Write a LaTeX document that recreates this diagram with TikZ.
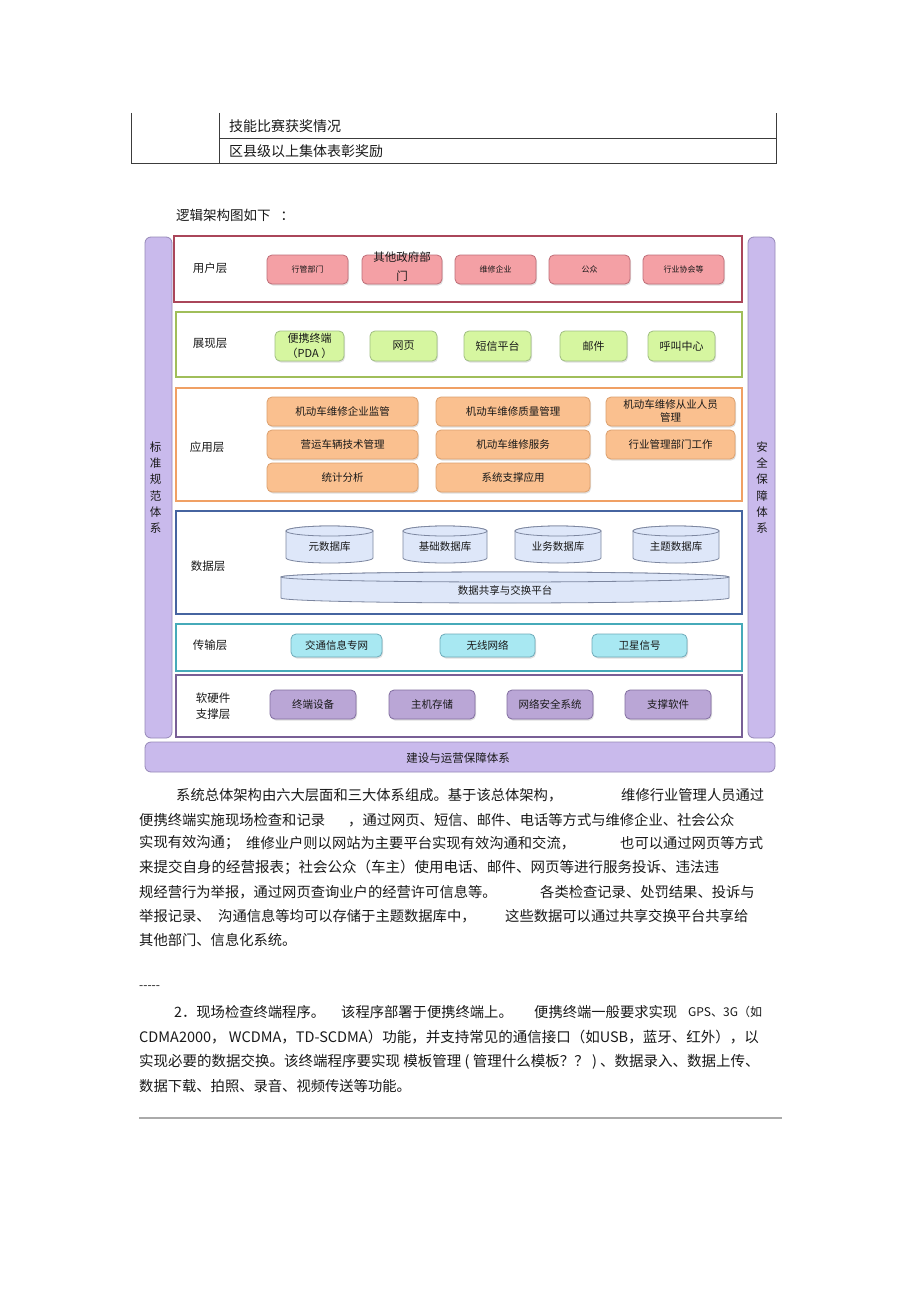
\documentclass[tikz,border=0pt]{standalone}
\usepackage{fontspec}
\newfontfamily\cjk{Noto Sans CJK SC}
\usetikzlibrary{shadows}

\definecolor{barfill}{RGB}{201,186,236}
\definecolor{bardraw}{RGB}{150,136,184}
\definecolor{userline}{RGB}{170,70,90}
\definecolor{userfill}{RGB}{244,160,165}
\definecolor{userdraw}{RGB}{190,110,120}
\definecolor{greenline}{RGB}{160,190,90}
\definecolor{greenfill}{RGB}{214,246,160}
\definecolor{greendraw}{RGB}{160,190,130}
\definecolor{orangeline}{RGB}{240,160,100}
\definecolor{orangefill}{RGB}{250,192,143}
\definecolor{orangedraw}{RGB}{220,160,110}
\definecolor{blueline}{RGB}{70,100,160}
\definecolor{cylfill}{RGB}{222,231,249}
\definecolor{cyldraw}{RGB}{125,135,160}
\definecolor{tealline}{RGB}{70,170,185}
\definecolor{cyanfill}{RGB}{168,232,242}
\definecolor{cyandraw}{RGB}{110,170,185}
\definecolor{purpline}{RGB}{120,95,150}
\definecolor{purpfill}{RGB}{186,166,214}
\definecolor{purpdraw}{RGB}{130,110,160}
\definecolor{textc}{RGB}{25,25,25}
\definecolor{tabline}{RGB}{60,60,60}
\definecolor{rulec}{RGB}{170,170,170}

\tikzset{
  body/.style={font=\cjk\fontsize{14.3}{17}\selectfont, anchor=west, inner sep=0pt, text=textc},
  layerlabel/.style={font=\cjk\fontsize{11.5}{16}\selectfont, inner sep=0pt, align=center, text=textc},
  boxtext/.style={font=\cjk\fontsize{10.5}{13}\selectfont, inner sep=0pt, align=center, text=textc},
  smallbox/.style={rounded corners=5pt, line width=0.8pt, inner sep=0pt,
     drop shadow={opacity=0.25, shadow xshift=1pt, shadow yshift=-1.5pt}},
  ubox/.style={smallbox, draw=userdraw, fill=userfill},
  gbox/.style={smallbox, draw=greendraw, fill=greenfill},
  obox/.style={smallbox, draw=orangedraw, fill=orangefill},
  cbox/.style={smallbox, draw=cyandraw, fill=cyanfill},
  pbox/.style={smallbox, draw=purpdraw, fill=purpfill},
  layer/.style={line width=1.3pt, fill=white, inner sep=0pt},
  bar/.style={draw=bardraw, fill=barfill, rounded corners=6pt, line width=0.8pt, inner sep=0pt},
  cylstyle/.style={draw=cyldraw, fill=cylfill, line width=0.8pt},
  tab/.style={draw=tabline, line width=0.8pt}
}

\newcommand{\dbcyl}[6]{%
  \pgfmathsetmacro\cylcx{(#2+#4)/2}%
  \pgfmathsetmacro\cylrx{(#4-#2)/2}%
  \draw[cylstyle] ({#2},{#3+5}) -- ({#2},{#5-5})
     arc[start angle=180,end angle=360,x radius=\cylrx pt,y radius=5pt]
     -- ({#4},{#3+5})
     arc[start angle=0,end angle=180,x radius=\cylrx pt,y radius=5pt] -- cycle;
  \draw[cylstyle] (\cylcx,{#3+5}) ellipse[x radius=\cylrx pt, y radius=5pt];
  \node[boxtext] (#1) at (\cylcx,{(#3+#5)/2+2.5}) {#6};
}

\begin{document}
\begin{tikzpicture}[x=1pt,y=-1pt]
\useasboundingbox (0,0) rectangle (920,1303);
\fill[white] (0,0) rectangle (920,1303);

% ---- table fragment
\coordinate (t1) at (131,113); \coordinate (t2) at (131,163);
\coordinate (t3) at (219,113); \coordinate (t4) at (219,163);
\coordinate (t5) at (776,113); \coordinate (t6) at (776,163);
\coordinate (t7) at (219,138); \coordinate (t8) at (776,138);
\draw[tab] (t1) -- (t2) -- (t6) -- (t5);
\draw[tab] (t3) -- (t4);
\draw[tab] (t7) -- (t8);
\node[body, font=\cjk\fontsize{14}{17}\selectfont] (row1) at (229,126) {技能比赛获奖情况};
\node[body, font=\cjk\fontsize{14}{17}\selectfont] (row2) at (229,151) {区县级以上集体表彰奖励};

\node[body, font=\cjk\fontsize{13.5}{17}\selectfont] (intro) at (176,215) {逻辑架构图如下\hspace{10pt}：};

% ---- side bars
\node[bar, minimum width=27pt, minimum height=501pt] (lbar) at (158.5,487.5) {};
\node[bar, minimum width=27pt, minimum height=501pt] (rbar) at (761.5,487.5) {};
\node[bar, minimum width=630pt, minimum height=30pt] (bbar) at (460,757) {};
\node[layerlabel, font=\cjk\fontsize{11.5}{16.2}\selectfont] (ltext) at (155.5,487.5) {标\\准\\规\\范\\体\\系};
\node[layerlabel, font=\cjk\fontsize{11.5}{16.2}\selectfont] (rtext) at (762,487.5) {安\\全\\保\\障\\体\\系};
\node[layerlabel] (btext) at (458,758) {建设与运营保障体系};

% ---- layers
\node[layer, draw=userline, minimum width=568pt, minimum height=66pt] (userlayer) at (458,269) {};
\node[layer, draw=greenline, minimum width=566pt, minimum height=65pt] (showlayer) at (459,344.5) {};
\node[layer, draw=orangeline, minimum width=566pt, minimum height=113pt] (applayer) at (459,444.5) {};
\node[layer, draw=blueline, minimum width=566pt, minimum height=103pt] (datalayer) at (459,562.5) {};
\node[layer, draw=tealline, minimum width=566pt, minimum height=47pt] (translayer) at (459,647.5) {};
\node[layer, draw=purpline, minimum width=566pt, minimum height=62pt] (hwlayer) at (459,706) {};

\node[layerlabel] (userlabel) at (210,268) {用户层};
\node[layerlabel] (showlabel) at (210,343) {展现层};
\node[layerlabel] (applabel) at (207,447) {应用层};
\node[layerlabel] (datalabel) at (208,566) {数据层};
\node[layerlabel] (translabel) at (210,645) {传输层};
\node[layerlabel] (hwlabel) at (213,706.5) {软硬件\\支撑层};

% ---- user layer boxes
\node[ubox, minimum width=81pt, minimum height=29pt] (u1) at (307.5,269.5) {};
\node[ubox, minimum width=80pt, minimum height=29pt] (u2) at (402,269.5) {};
\node[ubox, minimum width=81pt, minimum height=29pt] (u3) at (495.5,269.5) {};
\node[ubox, minimum width=81pt, minimum height=29pt] (u4) at (589.5,269.5) {};
\node[ubox, minimum width=81pt, minimum height=29pt] (u5) at (683.5,269.5) {};
\node[boxtext, font=\cjk\fontsize{8}{10}\selectfont] (u1t) at (u1) {行管部门};
\node[boxtext, font=\cjk\fontsize{11.5}{19}\selectfont] (u2t) at (402,267) {其他政府部\\门};
\node[boxtext, font=\cjk\fontsize{8}{10}\selectfont] (u3t) at (u3) {维修企业};
\node[boxtext, font=\cjk\fontsize{8}{10}\selectfont] (u4t) at (u4) {公众};
\node[boxtext, font=\cjk\fontsize{8}{10}\selectfont] (u5t) at (u5) {行业协会等};

% ---- presentation layer boxes
\node[gbox, minimum width=69pt, minimum height=30pt] (g1) at (309.5,346) {};
\node[gbox, minimum width=67pt, minimum height=30pt] (g2) at (403.5,346) {};
\node[gbox, minimum width=67pt, minimum height=30pt] (g3) at (497.5,346) {};
\node[gbox, minimum width=67pt, minimum height=30pt] (g4) at (593.5,346) {};
\node[gbox, minimum width=67pt, minimum height=30pt] (g5) at (681.5,346) {};
\node[boxtext, font=\cjk\fontsize{11}{15}\selectfont] (g1t) at (309.5,345.5) {便携终端\\（PDA ）};
\node[boxtext, font=\cjk\fontsize{11}{15}\selectfont] (g2t) at (g2) {网页};
\node[boxtext, font=\cjk\fontsize{11}{15}\selectfont] (g3t) at (g3) {短信平台};
\node[boxtext, font=\cjk\fontsize{11}{15}\selectfont] (g4t) at (g4) {邮件};
\node[boxtext, font=\cjk\fontsize{11}{15}\selectfont] (g5t) at (g5) {呼叫中心};

% ---- application layer boxes
\node[obox, minimum width=151pt, minimum height=29pt] (o11) at (342.5,411.5) {};
\node[obox, minimum width=154pt, minimum height=29pt] (o12) at (513,411.5) {};
\node[obox, minimum width=129pt, minimum height=29pt] (o13) at (670.5,411.5) {};
\node[obox, minimum width=151pt, minimum height=29pt] (o21) at (342.5,444.5) {};
\node[obox, minimum width=154pt, minimum height=29pt] (o22) at (513,444.5) {};
\node[obox, minimum width=129pt, minimum height=29pt] (o23) at (670.5,444.5) {};
\node[obox, minimum width=151pt, minimum height=29pt] (o31) at (342.5,477.5) {};
\node[obox, minimum width=154pt, minimum height=29pt] (o32) at (513,477.5) {};
\node[boxtext] (o11t) at (o11) {机动车维修企业监管};
\node[boxtext] (o12t) at (o12) {机动车维修质量管理};
\node[boxtext] (o13t) at (670.5,411) {机动车维修从业人员\\管理};
\node[boxtext] (o21t) at (o21) {营运车辆技术管理};
\node[boxtext] (o22t) at (o22) {机动车维修服务};
\node[boxtext] (o23t) at (o23) {行业管理部门工作};
\node[boxtext] (o31t) at (o31) {统计分析};
\node[boxtext] (o32t) at (o32) {系统支撑应用};

% ---- data layer cylinders
\dbcyl{d1}{286}{526}{373}{563}{元数据库}
\dbcyl{d2}{403}{526}{487}{563}{基础数据库}
\dbcyl{d3}{515}{526}{601}{563}{业务数据库}
\dbcyl{d4}{633}{526}{719}{563}{主题数据库}
\dbcyl{d5}{281}{572}{729}{603}{数据共享与交换平台}

% ---- transport layer boxes
\node[cbox, minimum width=91pt, minimum height=23pt] (c1) at (336.5,645.5) {};
\node[cbox, minimum width=95pt, minimum height=23pt] (c2) at (487.5,645.5) {};
\node[cbox, minimum width=95pt, minimum height=23pt] (c3) at (639.5,645.5) {};
\node[boxtext] (c1t) at (c1) {交通信息专网};
\node[boxtext] (c2t) at (c2) {无线网络};
\node[boxtext] (c3t) at (c3) {卫星信号};

% ---- hardware layer boxes
\node[pbox, minimum width=86pt, minimum height=29pt] (p1) at (313,704.5) {};
\node[pbox, minimum width=86pt, minimum height=29pt] (p2) at (432,704.5) {};
\node[pbox, minimum width=86pt, minimum height=29pt] (p3) at (550,704.5) {};
\node[pbox, minimum width=86pt, minimum height=29pt] (p4) at (668,704.5) {};
\node[boxtext] (p1t) at (p1) {终端设备};
\node[boxtext] (p2t) at (p2) {主机存储};
\node[boxtext] (p3t) at (p3) {网络安全系统};
\node[boxtext] (p4t) at (p4) {支撑软件};

% ---- paragraph
\node[body] (a1) at (176,795) {系统总体架构由六大层面和三大体系组成。基于该总体架构，};
\node[body] (a2) at (621,795) {维修行业管理人员通过};
\node[body] (b1) at (139,820) {便携终端实施现场检查和记录};
\node[body] (b2) at (348,820) {，通过网页、短信、邮件、电话等方式与维修企业、社会公众};
\node[body] (c1p) at (139,843) {实现有效沟通；};
\node[body] (c2p) at (246,843) {维修业户则以网站为主要平台实现有效沟通和交流，};
\node[body] (c3p) at (620,843) {也可以通过网页等方式};
\node[body, font=\cjk\fontsize{14.5}{17}\selectfont] (d1p) at (139,867) {来提交自身的经营报表；社会公众（车主）使用电话、邮件、网页等进行服务投诉、违法违};
\node[body] (e1) at (139,892) {规经营行为举报，通过网页查询业户的经营许可信息等。};
\node[body] (e2) at (540,892) {各类检查记录、处罚结果、投诉与};
\node[body] (f1) at (139,916) {举报记录、};
\node[body] (f2) at (218,916) {沟通信息等均可以存储于主题数据库中，};
\node[body] (f3) at (505,916) {这些数据可以通过共享交换平台共享给};
\node[body] (g1p) at (139,940) {其他部门、信息化系统。};

% ---- second section
\node[body, font=\cjk\fontsize{12}{14}\selectfont] (dashes) at (139,988) {-----};
\node[body] (h1) at (174,1012) {2．现场检查终端程序。};
\node[body] (h2) at (341,1012) {该程序部署于便携终端上。};
\node[body] (h3) at (534,1012) {便携终端一般要求实现};
\node[body, font=\cjk\fontsize{12}{14}\selectfont] (h4) at (688,1012) {GPS、3G（如};
\node[body, font=\cjk\fontsize{14.5}{17}\selectfont] (i1) at (139,1037) {CDMA2000， WCDMA，TD-SCDMA）功能，并支持常见的通信接口（如USB，蓝牙、红外），以};
\node[body, font=\cjk\fontsize{14.5}{17}\selectfont] (j1) at (139,1062) {实现必要的数据交换。该终端程序要实现 模板管理 ( 管理什么模板？？ ) 、数据录入、数据上传、};
\node[body] (k1) at (139,1086) {数据下载、拍照、录音、视频传送等功能。};

\coordinate (r1) at (139,1118);
\coordinate (r2) at (782,1118);
\draw[rulec, line width=1.5pt] (r1) -- (r2);
\end{tikzpicture}
\end{document}
